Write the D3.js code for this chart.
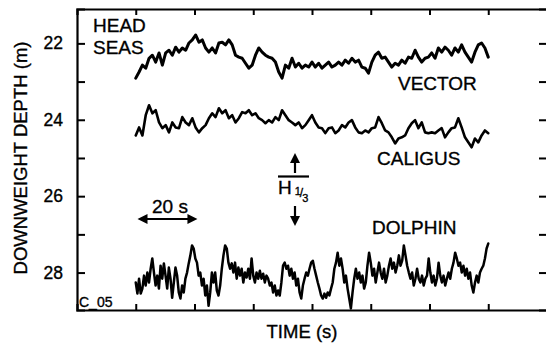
<!DOCTYPE html>
<html>
<head>
<meta charset="utf-8">
<script src="https://cdn.jsdelivr.net/npm/d3@7"></script>
<style>
  html, body { margin: 0; padding: 0; background: #fff; }
  svg { display: block; }
  text { font-family: "Liberation Sans", Arial, Helvetica, sans-serif; fill: #000; stroke: #000; stroke-width: 0.35px; }
</style>
</head>
<body>
<svg id="chart" width="546" height="345"></svg>
<script>
// ---- Data (depth in metres, sampled uniformly over 0–120 s) ----
const timeSpan = [0, 120];
const xTicks = [0, 20, 40, 60, 80, 100, 120];
const yMajorTicks = [22, 24, 26, 28];
const yMinorTicks = [23, 25, 27];
const yAllTicks = [22, 23, 24, 25, 26, 27, 28];

const vectorDepth = [
  22.91, 22.75, 22.57, 22.65, 22.39, 22.31, 22.49, 22.25, 22.57, 22.25,
  22.18, 22.31, 22.10, 22.23, 22.12, 22.18, 21.99, 21.91, 21.78, 21.97,
  21.91, 22.12, 22.23, 22.12, 22.25, 21.99, 21.97, 22.04, 21.91, 22.04,
  22.31, 22.36, 22.39, 22.52, 22.65, 22.57, 22.31, 22.12, 22.23, 22.31,
  22.36, 22.39, 22.49, 22.75, 22.91, 22.57, 22.65, 22.39, 22.62, 22.52,
  22.65, 22.57, 22.62, 22.49, 22.62, 22.52, 22.65, 22.57, 22.49, 22.62,
  22.57, 22.49, 22.57, 22.44, 22.52, 22.39, 22.49, 22.44, 22.62, 22.65,
  22.78, 22.49, 22.31, 22.23, 22.39, 22.36, 22.49, 22.62, 22.52, 22.57,
  22.44, 22.52, 22.36, 22.39, 22.18, 22.36, 22.49, 22.39, 22.36, 22.25,
  22.39, 22.12, 22.23, 22.10, 22.18, 22.31, 22.12, 22.23, 22.04, 22.23,
  22.36, 22.49, 22.23, 22.04, 21.99, 22.12, 22.36
];

const caligusDepth = [
  24.41, 24.20, 24.41, 23.88, 23.62, 23.83, 23.75, 24.07, 24.22, 24.14,
  24.33, 24.07, 24.20, 24.22, 23.93, 24.07, 24.14, 23.96, 24.20, 24.33,
  24.22, 24.14, 23.96, 23.83, 23.93, 23.70, 23.83, 23.75, 23.96, 23.88,
  24.07, 23.96, 23.80, 23.83, 23.75, 23.88, 23.83, 23.96, 24.01, 24.09,
  24.01, 24.07, 23.93, 24.01, 23.75, 23.88, 24.01, 24.07, 24.14, 24.07,
  24.22, 24.14, 24.01, 23.88, 24.07, 24.20, 24.22, 24.35, 24.22, 24.20,
  24.35, 24.28, 24.14, 24.20, 24.07, 24.01, 24.20, 24.33, 24.35, 24.28,
  24.33, 24.22, 24.20, 23.93, 24.09, 24.28, 24.33, 24.46, 24.62, 24.49,
  24.46, 24.41, 24.22, 24.09, 24.01, 24.22, 24.07, 24.33, 24.35, 24.33,
  24.35, 24.28, 24.22, 24.46, 24.33, 24.22, 24.20, 23.96, 24.20, 24.46,
  24.59, 24.72, 24.49, 24.59, 24.41, 24.28, 24.35
];

const dolphinDepth = [
  28.26, 28.55, 28.16, 28.55, 28.42, 28.08, 28.34, 28.00, 28.26, 27.90,
  27.63, 28.00, 28.34, 28.08, 28.42, 27.82, 28.16, 27.76, 28.08, 28.42,
  27.87, 28.16, 28.66, 28.26, 27.87, 28.08, 28.52, 28.68, 28.34, 28.52,
  28.16, 28.00, 27.76, 27.55, 27.29, 27.37, 27.63, 27.74, 28.08, 28.00,
  28.34, 28.16, 28.60, 28.34, 28.87, 28.52, 28.00, 28.26, 28.00, 28.47,
  28.60, 28.34, 27.90, 27.55, 27.29, 27.37, 27.74, 27.90, 27.76, 28.00,
  27.74, 28.16, 27.87, 28.08, 27.90, 28.26, 28.00, 28.13, 27.90, 28.16,
  27.63, 28.08, 28.26, 28.00, 28.16, 27.95, 28.16, 28.03, 28.26, 28.08,
  28.16, 28.34, 28.26, 28.52, 28.34, 28.60, 28.47, 28.60, 28.26, 27.82,
  27.74, 27.90, 27.82, 28.08, 27.90, 28.16, 28.00, 28.34, 28.16, 28.52,
  28.68, 28.34, 28.16, 28.00, 28.08, 27.90, 27.74, 27.69, 27.90, 28.08,
  28.26, 28.42, 28.60, 28.68, 28.55, 28.66, 28.52, 28.60, 28.42, 28.26,
  27.90, 27.74, 27.48, 27.82, 27.63, 27.90, 28.26, 28.08, 28.42, 28.68,
  28.94, 28.52, 28.16, 27.90, 28.16, 28.00, 28.26, 28.08, 28.42, 28.26,
  27.82, 27.48, 27.74, 28.08, 27.90, 28.26, 28.00, 27.74, 28.00, 28.16,
  27.90, 28.26, 28.08, 27.82, 27.63, 27.90, 27.74, 28.00, 27.82, 27.55,
  27.82, 27.69, 27.29, 27.55, 27.82, 28.00, 28.16, 28.00, 28.34, 28.16,
  27.90, 28.16, 28.26, 28.08, 28.34, 28.16, 28.08, 27.63, 28.00, 28.26,
  28.08, 28.34, 28.16, 27.74, 28.08, 28.26, 28.08, 28.34, 28.16, 28.00,
  28.16, 27.90, 27.74, 27.48, 27.63, 27.82, 27.74, 28.00, 27.82, 28.08,
  27.90, 28.16, 28.00, 28.34, 28.52, 28.26, 28.08, 28.26, 28.00, 27.90,
  27.82, 27.63, 27.37, 27.24
];

const seriesNames = ["VECTOR", "CALIGUS", "DOLPHIN"];

// ---- Layout ----
const plot = { left: 77, right: 547, top: 9, bottom: 310 };

const svg = d3.select("#chart");

const x = d3.scaleLinear().domain([-20, 140]).range([plot.left, plot.right]);
const y = d3.scaleLinear().domain([21.1, 28.98]).range([plot.top, plot.bottom]);

function toPoints(vals) {
  const n = vals.length;
  return vals.map((v, i) => [timeSpan[0] + i * (timeSpan[1] - timeSpan[0]) / (n - 1), v]);
}

const line = d3.line().x(d => x(d[0])).y(d => y(d[1]));

// ---- Series ----
const seriesData = [
  { name: seriesNames[0], pts: toPoints(vectorDepth), w: 3 },
  { name: seriesNames[1], pts: toPoints(caligusDepth), w: 2.6 },
  { name: seriesNames[2], pts: toPoints(dolphinDepth), w: 2.5 }
];

svg.append("g").selectAll("path").data(seriesData).join("path")
  .attr("d", d => line(d.pts))
  .attr("fill", "none")
  .attr("stroke", "#000")
  .attr("stroke-width", d => d.w)
  .attr("stroke-linejoin", "round")
  .attr("stroke-linecap", "round");

// ---- Axes ----
function styleAxis(g) {
  g.selectAll(".domain").attr("stroke", "#000").attr("stroke-width", 2.2);
  g.selectAll(".tick line").attr("stroke", "#000").attr("stroke-width", 2);
  g.selectAll(".tick text").attr("fill", "#000")
    .style("font-family", '"Liberation Sans", Arial, Helvetica, sans-serif');
}

// left major
svg.append("g").attr("transform", `translate(${plot.left},0)`)
  .call(d3.axisLeft(y).tickValues(yMajorTicks).tickSize(-8).tickPadding(14).tickFormat(d3.format("d")))
  .call(g => g.selectAll(".tick text").style("font-size", "17.5px"))
  .call(styleAxis);
// left minor
svg.append("g").attr("transform", `translate(${plot.left},0)`)
  .call(d3.axisLeft(y).tickValues(yMinorTicks).tickSize(-8).tickFormat(""))
  .call(g => g.select(".domain").remove())
  .call(styleAxis);
// right
svg.append("g").attr("transform", `translate(${plot.right},0)`)
  .call(d3.axisRight(y).tickValues(yAllTicks).tickSize(-8).tickFormat(""))
  .call(styleAxis);
// top
svg.append("g").attr("transform", `translate(0,${plot.top})`)
  .call(d3.axisTop(x).tickValues(xTicks).tickSize(-6).tickFormat(""))
  .call(styleAxis);
// bottom
svg.append("g").attr("transform", `translate(0,${plot.bottom})`)
  .call(d3.axisBottom(x).tickValues(xTicks).tickSize(-6).tickFormat(""))
  .call(styleAxis);

// ---- Axis titles ----
svg.append("text")
  .attr("transform", `translate(27,158) rotate(-90)`)
  .attr("text-anchor", "middle")
  .style("font-size", "18.5px")
  .text("DOWNWEIGHT DEPTH (m)");

svg.append("text")
  .attr("x", 302).attr("y", 338)
  .attr("text-anchor", "middle")
  .style("font-size", "18.5px")
  .text("TIME (s)");

// ---- Annotations ----
const ann = svg.append("g").style("font-size", "19px");
ann.append("text").attr("x", 93).attr("y", 32).text("HEAD");
ann.append("text").attr("x", 93).attr("y", 54).text("SEAS");
ann.append("text").attr("x", 398).attr("y", 90).text(seriesNames[0]);
ann.append("text").attr("x", 377).attr("y", 165).text(seriesNames[1]);
ann.append("text").attr("x", 372).attr("y", 234).text(seriesNames[2]);
ann.append("text").attr("x", 152).attr("y", 213).text("20 s");
svg.append("text").attr("x", 79).attr("y", 307).style("font-size", "14px").text("C_05");

// 20 s double arrow
const aY = 219, aX0 = x(0.6), aX1 = x(21);
svg.append("line").attr("x1", aX0 + 4).attr("x2", aX1 - 4).attr("y1", aY).attr("y2", aY)
  .attr("stroke", "#000").attr("stroke-width", 2.2);
svg.append("path").attr("d", `M${aX0},${aY} l10,-5 l0,10 Z`).attr("fill", "#000");
svg.append("path").attr("d", `M${aX1},${aY} l-10,-5 l0,10 Z`).attr("fill", "#000");

// H1/3 marker
const hx = 295;
svg.append("line").attr("x1", hx).attr("x2", hx).attr("y1", 162).attr("y2", 173)
  .attr("stroke", "#000").attr("stroke-width", 2.2);
svg.append("path").attr("d", `M${hx},${153} l-5,10 l10,0 Z`).attr("fill", "#000");
svg.append("line").attr("x1", 278).attr("x2", 309).attr("y1", 176.5).attr("y2", 176.5)
  .attr("stroke", "#000").attr("stroke-width", 2.2);
svg.append("line").attr("x1", hx).attr("x2", hx).attr("y1", 206).attr("y2", 217)
  .attr("stroke", "#000").attr("stroke-width", 2.2);
svg.append("path").attr("d", `M${hx},${226} l-5,-10 l10,0 Z`).attr("fill", "#000");

const ht = svg.append("text").attr("x", 278).attr("y", 194).style("font-size", "19px");
ht.append("tspan").text("H");
ht.append("tspan").attr("dx", 3).attr("dy", 1).style("font-size", "11px").text("1");
ht.append("tspan").attr("dx", -1).attr("dy", 2).style("font-size", "12px").text("/");
ht.append("tspan").attr("dx", -1).attr("dy", 5).style("font-size", "11px").text("3");
</script>
</body>
</html>
